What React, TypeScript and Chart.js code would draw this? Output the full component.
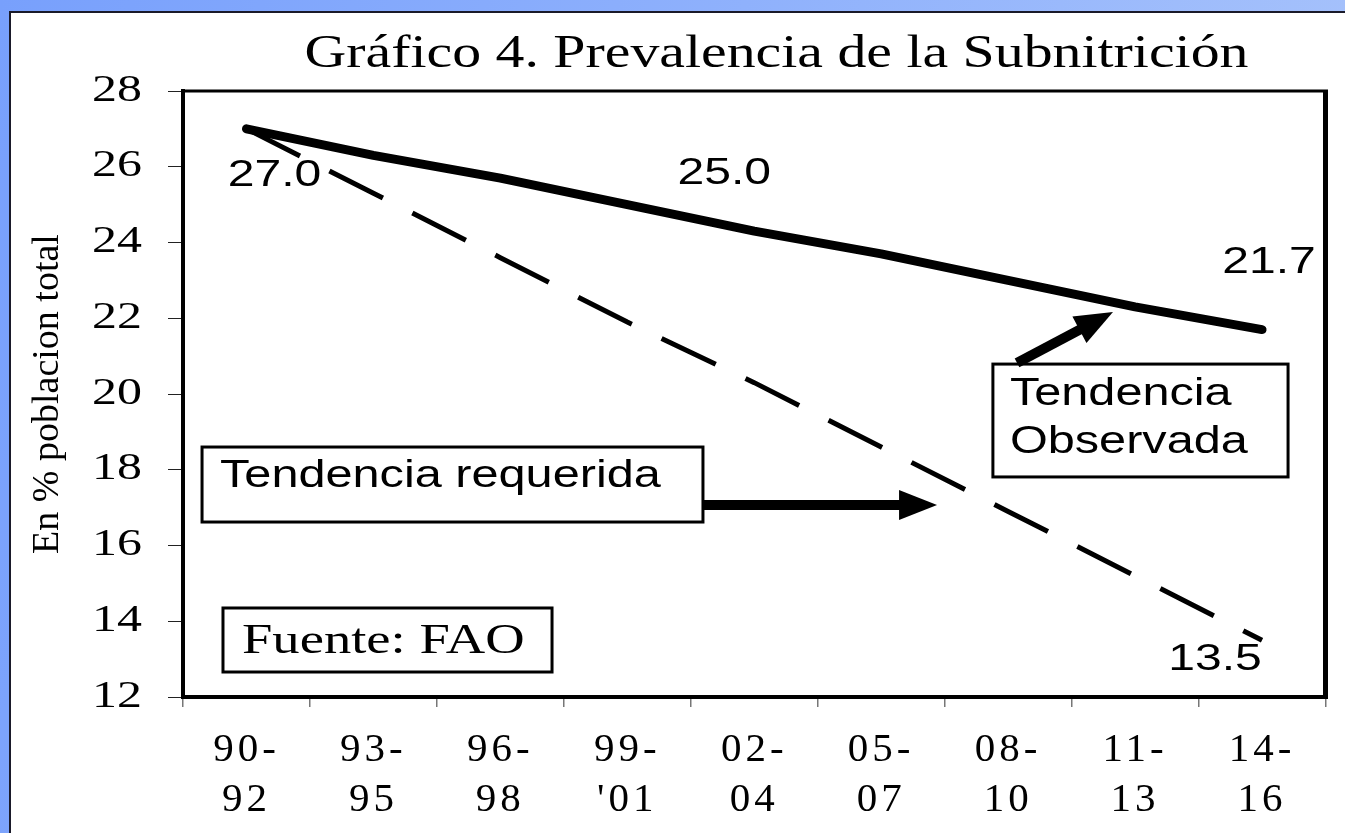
import React, { useEffect, useRef } from 'react';
import { Chart, registerables } from 'chart.js';

Chart.register(...registerables);

// ---------- data ----------
const periods: string[][] = [
  ['90-', '92'], ['93-', '95'], ['96-', '98'], ['99-', "'01"], ['02-', '04'],
  ['05-', '07'], ['08-', '10'], ['11-', '13'], ['14-', '16'],
];
const observed: number[] = [27.0, 26.3, 25.7, 25.0, 24.3, 23.7, 23.0, 22.3, 21.7];
const required: number[] = [27.0, 25.3, 23.6, 21.9, 20.3, 18.6, 16.9, 15.2, 13.5];
const yMin = 12;
const yMax = 28;
const yStep = 2;
const titleText = 'Gráfico 4. Prevalencia de la Subnitrición';
const yTitleText = 'En % poblacion total';
const observedName = 'Tendencia Observada';
const requiredName = 'Tendencia requerida';
const sourceText = 'Fuente: FAO';

// ---------- styling ----------
const SERIF = "'Liberation Serif', 'Times New Roman', serif";
const SANS = "'Liberation Sans', Arial, sans-serif";
const Y_TICK_LEN = 15;
const Y_TICK_PAD = 26;
const Y_LABEL_STRETCH = 1.35;

// data labels: which point, offset of the label from the point (px)
const dataLabels = [
  { series: 0, index: 0, dx: 28, dy: 57 },
  { series: 0, index: 3, dx: 97, dy: -21 },
  { series: 0, index: 8, dx: 7, dy: -57 },
  { series: 1, index: 8, dx: -47, dy: 30 },
];

// note boxes in axis units (category index / value)
const noteBoxes = [
  { x0: -0.35, x1: 3.596, y0: 18.6, y1: 16.62, lines: [requiredName], family: SANS, size: 38, sx: 1.28, padX: 18, base: 40, step: 48 },
  { x0: 5.88, x1: 8.205, y0: 20.79, y1: 17.81, lines: ['Tendencia', 'Observada'], family: SANS, size: 38, sx: 1.28, padX: 17, base: 41, step: 48 },
  { x0: -0.185, x1: 2.407, y0: 14.35, y1: 12.66, lines: [sourceText], family: SERIF, size: 42, sx: 1.3, padX: 19, base: 45, step: 48 },
];
const arrows = [
  { from: [3.596, 17.07], to: [5.44, 17.07] },
  { from: [6.07, 20.82], to: [6.826, 22.165] },
];

function drawStretched(
  ctx: CanvasRenderingContext2D, text: string, x: number, y: number,
  font: string, sx: number, align: 'left' | 'center' | 'right',
) {
  ctx.save();
  (ctx as any).letterSpacing = '0px';
  ctx.font = font;
  ctx.textAlign = 'left';
  ctx.textBaseline = 'alphabetic';
  const w = ctx.measureText(text).width * sx;
  let left = x;
  if (align === 'center') left = x - w / 2;
  else if (align === 'right') left = x - w;
  ctx.translate(left, y);
  ctx.scale(sx, 1);
  ctx.fillStyle = '#000';
  ctx.fillText(text, 0, 0);
  ctx.restore();
}

let baseTransform: DOMMatrix | null = null;

const decorPlugin = {
  id: 'decor',
  beforeDraw(chart: any) {
    baseTransform = chart.ctx.getTransform();
    chart.ctx.letterSpacing = '4px'; // x tick labels
  },
  beforeDatasetsDraw(chart: any) {
    chart.ctx.letterSpacing = '0px';
  },
  afterDatasetsDraw(chart: any) {
    const { ctx, chartArea: ca } = chart;
    // top and right frame of plot area
    ctx.save();
    ctx.strokeStyle = '#000';
    ctx.lineCap = 'butt';
    ctx.lineWidth = 3;
    ctx.beginPath();
    ctx.moveTo(ca.left - 2, ca.top);
    ctx.lineTo(ca.right + 2.5, ca.top);
    ctx.stroke();
    ctx.lineWidth = 5;
    ctx.beginPath();
    ctx.moveTo(ca.right, ca.top);
    ctx.lineTo(ca.right, ca.bottom + 2);
    ctx.stroke();
    ctx.restore();
    // y tick labels are drawn next (ticks z = 1): widen them about their right anchor
    const anchor = chart.scales.y.right - Y_TICK_LEN - Y_TICK_PAD;
    const m = baseTransform || ctx.getTransform();
    ctx.setTransform(m.a * Y_LABEL_STRETCH, 0, 0, m.d, m.e + anchor * (1 - Y_LABEL_STRETCH) * m.a, m.f);
  },
  afterDraw(chart: any) {
    const { ctx, chartArea: ca } = chart;
    if (baseTransform) ctx.setTransform(baseTransform);
    const xs = chart.scales.x;
    const ys = chart.scales.y;
    ctx.save();
    ctx.letterSpacing = '0px';

    // title
    drawStretched(ctx, titleText, 776.5, 67, `47px ${SERIF}`, 1.23, 'center');

    // y axis title
    ctx.save();
    ctx.font = `38px ${SERIF}`;
    ctx.fillStyle = '#000';
    ctx.textAlign = 'center';
    ctx.textBaseline = 'alphabetic';
    ctx.translate(58, (ca.top + ca.bottom) / 2);
    ctx.rotate(-Math.PI / 2);
    ctx.fillText(yTitleText, 0, 0);
    ctx.restore();

    // data labels
    dataLabels.forEach((l) => {
      const pt = chart.getDatasetMeta(l.series).data[l.index];
      const v = chart.data.datasets[l.series].data[l.index] as number;
      drawStretched(ctx, v.toFixed(1), pt.x + l.dx, pt.y + l.dy, `37px ${SANS}`, 1.3, 'center');
    });

    // note boxes
    noteBoxes.forEach((b) => {
      const L = xs.getPixelForValue(b.x0);
      const R = xs.getPixelForValue(b.x1);
      const T = ys.getPixelForValue(b.y0);
      const B = ys.getPixelForValue(b.y1);
      ctx.save();
      ctx.fillStyle = '#fff';
      ctx.fillRect(L, T, R - L, B - T);
      ctx.strokeStyle = '#000';
      ctx.lineWidth = 3;
      ctx.strokeRect(L, T, R - L, B - T);
      ctx.restore();
      b.lines.forEach((t, i) => {
        drawStretched(ctx, t, L + b.padX, T + b.base + i * b.step, `${b.size}px ${b.family}`, b.sx, 'left');
      });
    });

    // arrows
    arrows.forEach((a) => {
      const x1 = xs.getPixelForValue(a.from[0]);
      const y1 = ys.getPixelForValue(a.from[1]);
      const x2 = xs.getPixelForValue(a.to[0]);
      const y2 = ys.getPixelForValue(a.to[1]);
      const ang = Math.atan2(y2 - y1, x2 - x1);
      const headLen = 38;
      const headHalf = 15;
      const bx = x2 - headLen * Math.cos(ang);
      const by = y2 - headLen * Math.sin(ang);
      ctx.save();
      ctx.strokeStyle = '#000';
      ctx.fillStyle = '#000';
      ctx.lineWidth = 10;
      ctx.lineCap = 'butt';
      ctx.beginPath();
      ctx.moveTo(x1, y1);
      ctx.lineTo(bx + Math.cos(ang), by + Math.sin(ang));
      ctx.stroke();
      ctx.beginPath();
      ctx.moveTo(x2, y2);
      ctx.lineTo(bx - headHalf * Math.sin(ang), by + headHalf * Math.cos(ang));
      ctx.lineTo(bx + headHalf * Math.sin(ang), by - headHalf * Math.cos(ang));
      ctx.closePath();
      ctx.fill();
      ctx.restore();
    });

    ctx.restore();
  },
};

export default function App() {
  const ref = useRef<HTMLCanvasElement>(null);

  useEffect(() => {
    const canvas = ref.current;
    if (!canvas) return;
    const chart = new Chart(canvas, {
      type: 'line',
      data: {
        labels: periods,
        datasets: [
          {
            label: observedName,
            data: observed,
            borderColor: '#000',
            backgroundColor: '#000',
            borderWidth: 9,
            borderCapStyle: 'round',
            borderJoinStyle: 'round',
            pointRadius: 0,
            pointHoverRadius: 0,
            fill: false,
            tension: 0,
          },
          {
            label: requiredName,
            data: required,
            borderColor: '#000',
            backgroundColor: '#000',
            borderWidth: 5,
            borderDash: [60, 33],
            borderCapStyle: 'butt',
            pointRadius: 0,
            pointHoverRadius: 0,
            fill: false,
            tension: 0,
          },
        ],
      },
      options: {
        responsive: false,
        animation: false,
        devicePixelRatio: 1,
        events: [],
        layout: { padding: { top: 91, right: 19.5, left: 0, bottom: 0 } },
        plugins: {
          legend: { display: false },
          title: { display: false },
          tooltip: { enabled: false },
        },
        scales: {
          x: {
            type: 'category',
            offset: true,
            grid: { offset: true, drawOnChartArea: false, tickLength: 10, color: '#777', lineWidth: 1.5 },
            border: { display: true, color: '#000', width: 4 },
            ticks: {
              autoSkip: false,
              maxRotation: 0,
              minRotation: 0,
              padding: 18,
              color: '#000',
              font: { family: SERIF, size: 41, lineHeight: 1.22 },
            },
            afterFit: (s: any) => { s.height = 136; },
          },
          y: {
            min: yMin,
            max: yMax,
            ticks: {
              stepSize: yStep,
              padding: Y_TICK_PAD,
              color: '#000',
              font: { family: SERIF, size: 37 },
              z: 1,
            },
            grid: { drawOnChartArea: false, tickLength: Y_TICK_LEN, color: '#222', lineWidth: 1 },
            border: { display: true, color: '#000', width: 4 },
            afterFit: (s: any) => { s.width = 183; },
          },
        },
      },
      plugins: [decorPlugin],
    } as any);
    return () => chart.destroy();
  }, []);

  return (
    <div
      style={{
        position: 'absolute', left: 0, top: 0, width: 1345, height: 833, overflow: 'hidden',
        background: 'linear-gradient(100deg, #78a0fc 0%, #8fb1fc 50%, #a9c4fb 100%)',
      }}
    >
      <div
        style={{
          position: 'absolute', left: 9, top: 11, width: 1345, height: 833,
          background: '#fff', borderLeft: '2px solid #1a1a2a', borderTop: '2px solid #1a1a2a',
        }}
      />
      <canvas
        ref={ref}
        width={1345}
        height={833}
        style={{ position: 'absolute', left: 0, top: 0, width: 1345, height: 833 }}
      />
    </div>
  );
}
